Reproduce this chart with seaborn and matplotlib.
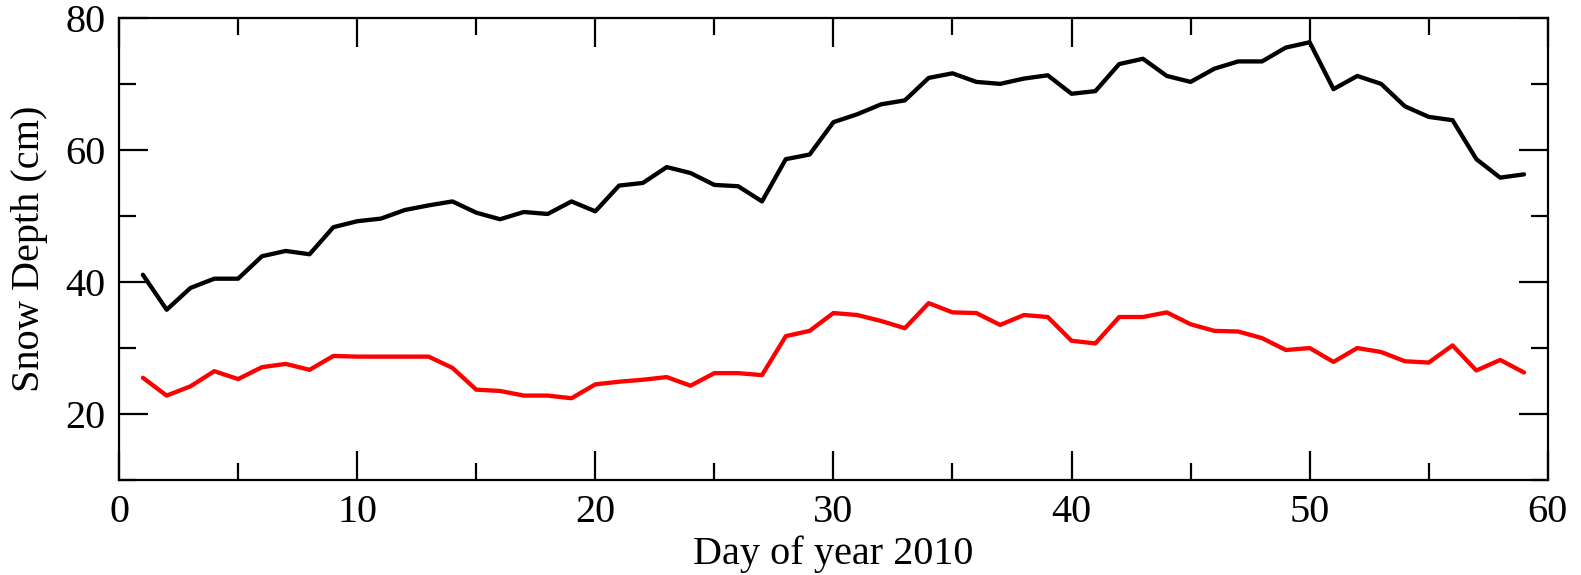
"""Snow depth over the first 59 days of 2010, two sites."""
import matplotlib
matplotlib.use("Agg")
import matplotlib.pyplot as plt
from matplotlib.ticker import MultipleLocator
import pandas as pd
import seaborn as sns

days = list(range(1, 60))
depth_black = [
    41.1, 35.8, 39.1, 40.5, 40.5, 43.9, 44.7, 44.2, 48.3, 49.2,
    49.6, 50.9, 51.6, 52.2, 50.5, 49.5, 50.6, 50.3, 52.2, 50.7,
    54.6, 55.0, 57.4, 56.5, 54.7, 54.5, 52.2, 58.6, 59.3, 64.2,
    65.4, 66.9, 67.5, 70.9, 71.6, 70.3, 70.0, 70.8, 71.3, 68.5,
    68.9, 73.0, 73.8, 71.2, 70.3, 72.3, 73.4, 73.4, 75.5, 76.3,
    69.2, 71.2, 70.0, 66.6, 65.0, 64.5, 58.6, 55.8, 56.3,
]
depth_red = [
    25.5, 22.8, 24.2, 26.5, 25.3, 27.1, 27.6, 26.7, 28.8, 28.7,
    28.7, 28.7, 28.7, 27.0, 23.7, 23.5, 22.8, 22.8, 22.4, 24.5,
    24.9, 25.2, 25.6, 24.3, 26.2, 26.2, 25.9, 31.8, 32.6, 35.3,
    35.0, 34.1, 33.0, 36.8, 35.4, 35.3, 33.5, 35.0, 34.7, 31.1,
    30.7, 34.7, 34.7, 35.4, 33.6, 32.6, 32.5, 31.5, 29.7, 30.0,
    27.9, 30.0, 29.4, 28.0, 27.8, 30.4, 26.6, 28.2, 26.3,
]

sns.set_style("ticks")
plt.rcParams["font.family"] = ["Liberation Serif", "DejaVu Serif"]
plt.rcParams["text.color"] = "black"
plt.rcParams["axes.labelcolor"] = "black"
plt.rcParams["xtick.color"] = "black"
plt.rcParams["ytick.color"] = "black"

df = pd.DataFrame({"day": days, "black": depth_black, "red": depth_red})

fig = plt.figure(figsize=(15.81, 5.75), dpi=100)
ax = fig.add_axes([0.0753, 0.165, 0.9037, 0.804])

sns.lineplot(data=df, x="day", y="black", ax=ax, color="black", linewidth=3.1)
sns.lineplot(data=df, x="day", y="red", ax=ax, color="#ff0000", linewidth=3.1)

ax.set_xlim(0, 60)
ax.set_ylim(10, 80)
ax.xaxis.set_major_locator(MultipleLocator(10))
ax.xaxis.set_minor_locator(MultipleLocator(5))
ax.yaxis.set_major_locator(MultipleLocator(20))
ax.yaxis.set_minor_locator(MultipleLocator(10))

ax.tick_params(which="both", direction="in", top=True, right=True,
               width=1.6, labelsize=29)
ax.tick_params(which="major", length=21)
ax.tick_params(which="minor", length=12)
ax.tick_params(axis="x", which="major", pad=10)
ax.tick_params(axis="y", which="major", pad=10)

for spine in ax.spines.values():
    spine.set_linewidth(1.6)
    spine.set_color("black")

ax.set_xlabel("Day of year 2010", fontsize=29, labelpad=3)
ax.set_ylabel("Snow Depth (cm)", fontsize=29, labelpad=12)

fig.savefig("out.png", dpi=100)
